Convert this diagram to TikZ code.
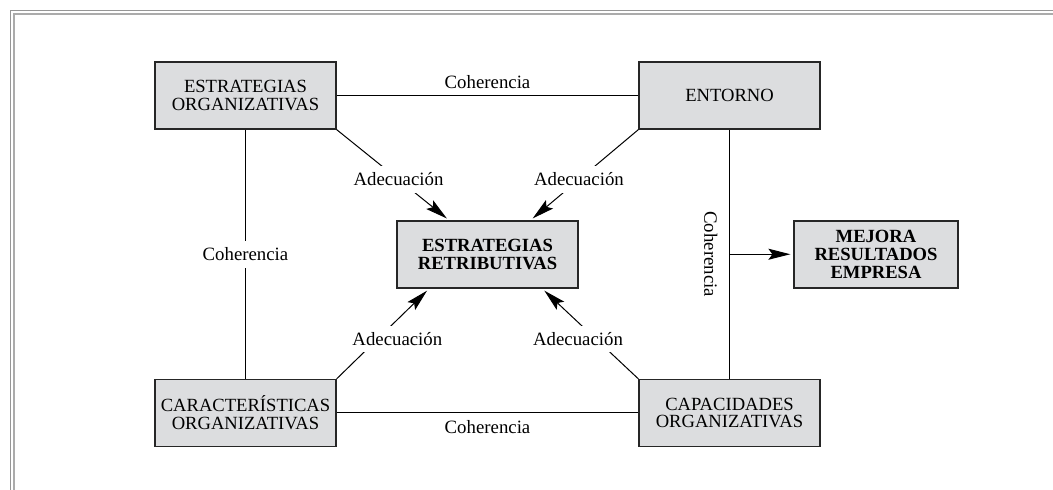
\documentclass[tikz,border=0pt]{standalone}
\usepackage{fontspec}
\setmainfont{Liberation Serif}
\usepackage{tikz}
\usetikzlibrary{arrows.meta,calc}

\definecolor{grisclaro}{RGB}{220,221,223}
\definecolor{grismarco}{RGB}{150,150,150}

\tikzset{
    caja/.style={draw=black!85,line width=0.6pt,fill=grisclaro,minimum width=90.5pt,
        minimum height=33.5pt,align=center,inner sep=1pt,font=\fontsize{9.3}{8.9}\selectfont},
    cajanegrita/.style={caja,font=\fontsize{9.3}{8.9}\selectfont\bfseries},
    etiq/.style={font=\fontsize{9.4}{10}\selectfont,fill=white},
    flecha/.style={-{Stealth[length=11pt,width=5.5pt,inset=2pt]},shorten >=1.5pt},
}

\begin{document}
\begin{tikzpicture}[x=0.5pt,y=-0.5pt,line width=0.5pt]
    \useasboundingbox (0,0) rectangle (1053,490);
    % marco
    \draw[grismarco,line width=0.5pt] (10,490) -- (10,10.5) -- (1053,10.5);
    \draw[grismarco!80,line width=0.9pt] (14,490) -- (14,14) -- (1053,14);

    \node[caja] (eo) at (245.5,95.5) {ESTRATEGIAS\\ORGANIZATIVAS};
    \node[caja] (ent) at (729.5,95.5) {ENTORNO};
    \node[caja] (car) at (245.5,413) {CARACTERÍSTICAS\\ORGANIZATIVAS};
    \node[caja] (cap) at (729.5,413) {CAPACIDADES\\ORGANIZATIVAS};
    \node[cajanegrita] (er) at (487.5,254.5) {ESTRATEGIAS\\RETRIBUTIVAS};
    \node[cajanegrita,minimum width=82pt] (mej) at (876,254.5) {MEJORA\\RESULTADOS\\EMPRESA};

    % coherencia
    \draw (eo.east) -- node[etiq,above,fill=none] {Coherencia} (ent.west);
    \draw (car.east) -- node[etiq,below,fill=none] {Coherencia} (cap.west);
    \draw (eo.south) -- node[etiq] {Coherencia} (car.north);
    \draw (ent.south) -- node[etiq,fill=none,rotate=-90,anchor=north,inner sep=0pt,outer sep=6pt] {Coherencia} (cap.north);
    \coordinate (medio) at ($(ent.south)!0.5!(cap.north)$);
    \draw[flecha] (medio) -- (medio -| mej.west);

    % adecuacion
    \draw[flecha] (eo.south east) -- node[etiq,pos=0.55] {Adecuación} ($(er.north west)!0.29!(er.north east)$);
    \draw[flecha] (ent.south west) -- node[etiq,pos=0.55] {Adecuación} ($(er.north west)!0.735!(er.north east)$);
    \draw[flecha] (car.north east) -- node[etiq,pos=0.44,xshift=10pt] {Adecuación} ($(er.south west)!0.18!(er.south east)$);
    \draw[flecha] (cap.north west) -- node[etiq,pos=0.44,xshift=-9pt] {Adecuación} ($(er.south west)!0.8!(er.south east)$);
\end{tikzpicture}
\end{document}
